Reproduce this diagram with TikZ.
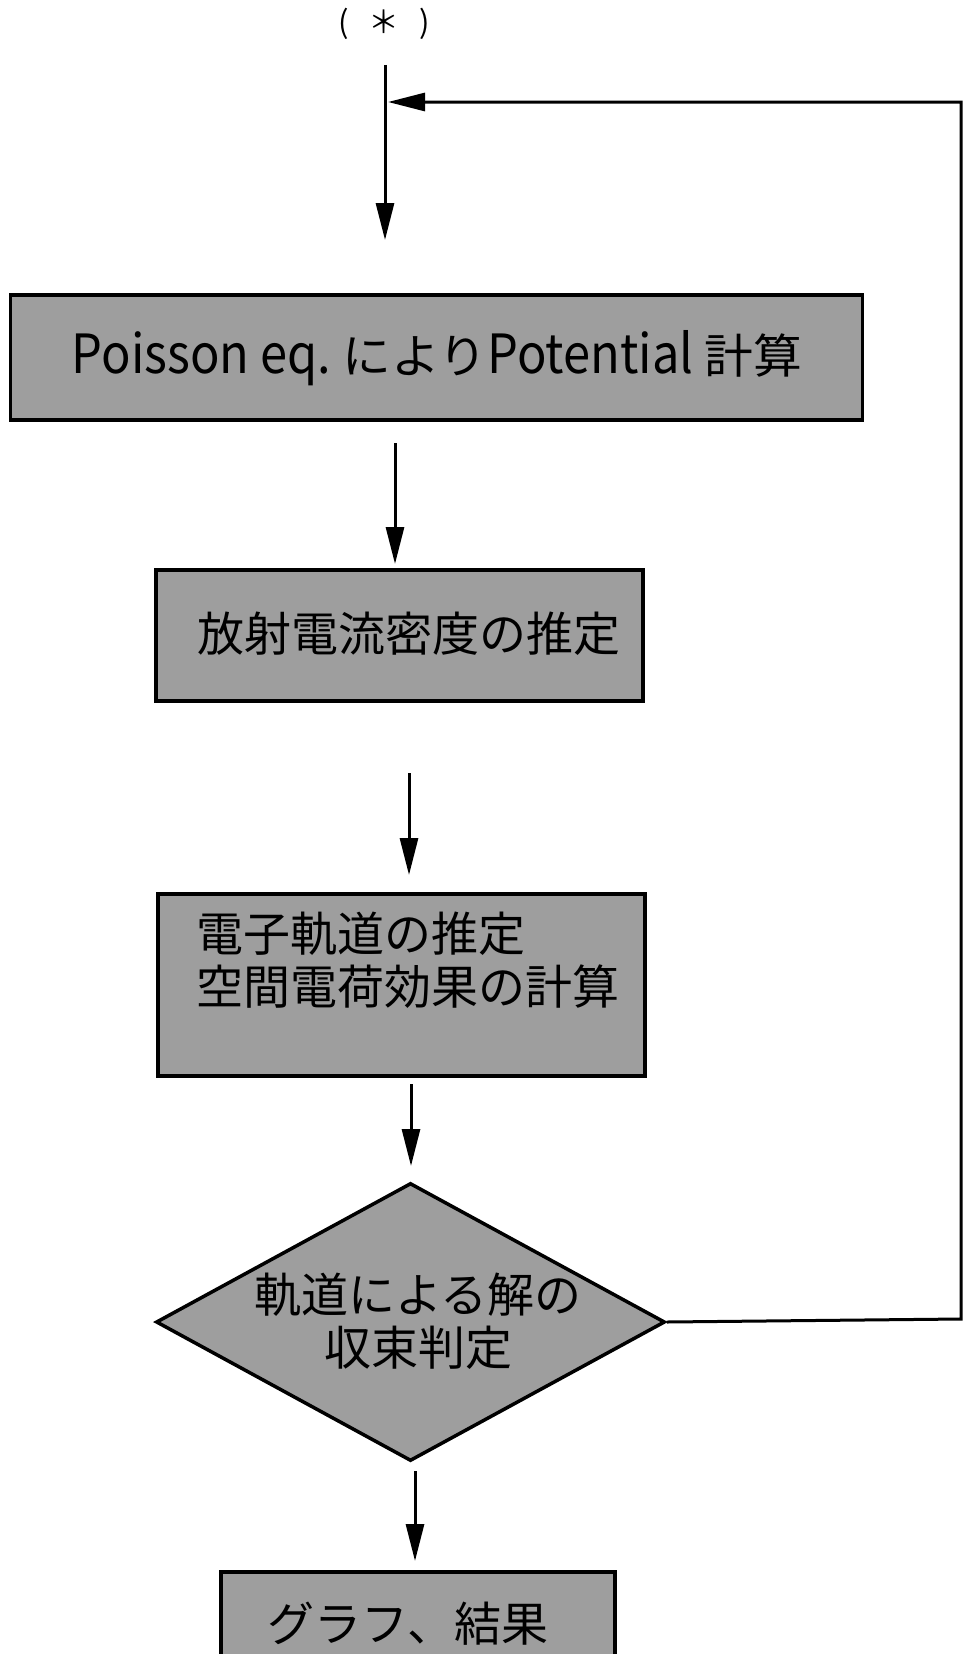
\documentclass[tikz,border=0pt]{standalone}
\usepackage{fontspec}
\usepackage{graphicx}
\setmainfont{Noto Sans CJK JP}
\usetikzlibrary{arrows.meta,shapes.geometric}
\newcommand\tallLatin[1]{\scalebox{1}[1.15]{#1}}
\begin{document}
\begin{tikzpicture}[x=1pt,y=-1pt,
  jp/.style={font=\fontsize{47}{53}\selectfont, inner sep=0pt},
  procbox/.style={draw, line width=3.5pt, fill=black!38, inner sep=0pt, rectangle},
  decbox/.style={draw, line width=3.5pt, fill=black!38, inner sep=0pt, diamond},
  arr/.style={line width=3pt, -{Triangle[length=37pt,width=18pt]}},
  loopline/.style={line width=3pt, line join=miter, -{Triangle[length=37pt,width=18pt]}}]
\useasboundingbox (0,0) rectangle (963,1654);
\clip (0,0) rectangle (963,1654);

% start label
\node[inner sep=0pt, font=\fontsize{31}{31}\selectfont] (star) at (384,24) {(\kern20pt＊\kern20pt)};

% boxes
\node[procbox, minimum width=852pt, minimum height=125pt] (b1) at (436.5,357.5) {};
\node[jp] (t1) at (437,358) {\resizebox{730pt}{\height}{\tallLatin{Poisson eq.} により\tallLatin{Potential} 計算}};

\node[procbox, minimum width=487pt, minimum height=131pt] (b2) at (399.5,635.5) {};
\node[jp] (t2) at (409,634) {放射電流密度の推定};

\node[procbox, minimum width=487pt, minimum height=182pt] (b3) at (401.5,985) {};
\node[jp, anchor=west, align=left] (t3) at (196,960) {電子軌道の推定\\空間電荷効果の計算};

\node[decbox, minimum width=509pt, minimum height=278pt] (d1) at (410.5,1322) {};
\node[jp, align=center] (t4) at (418,1321) {軌道による解の\\収束判定};

\node[procbox, minimum width=394pt, minimum height=160pt] (b5) at (418,1652) {};
\node[jp] (t5) at (408,1624) {グラフ、結果};

% arrow end points
\coordinate (a1s) at (385,65);
\coordinate (a1e) at (385,240);
\coordinate (a2s) at (395,443);
\coordinate (a2e) at (395,564);
\coordinate (a3s) at (409,773);
\coordinate (a3e) at (409,875);
\coordinate (a4s) at (411,1084);
\coordinate (a4e) at (411,1166);
\coordinate (a5s) at (415,1471);
\coordinate (a5e) at (415,1561);
\coordinate (fbR) at (961,1319);
\coordinate (fbT) at (961,102);
\coordinate (fbE) at (388,102);

\draw[arr] (a1s) -- (a1e);
\draw[arr] (a2s) -- (a2e);
\draw[arr] (a3s) -- (a3e);
\draw[arr] (a4s) -- (a4e);
\draw[arr] (a5s) -- (a5e);
\draw[loopline] (d1.east) -- (fbR) -- (fbT) -- (fbE);
\end{tikzpicture}
\end{document}
